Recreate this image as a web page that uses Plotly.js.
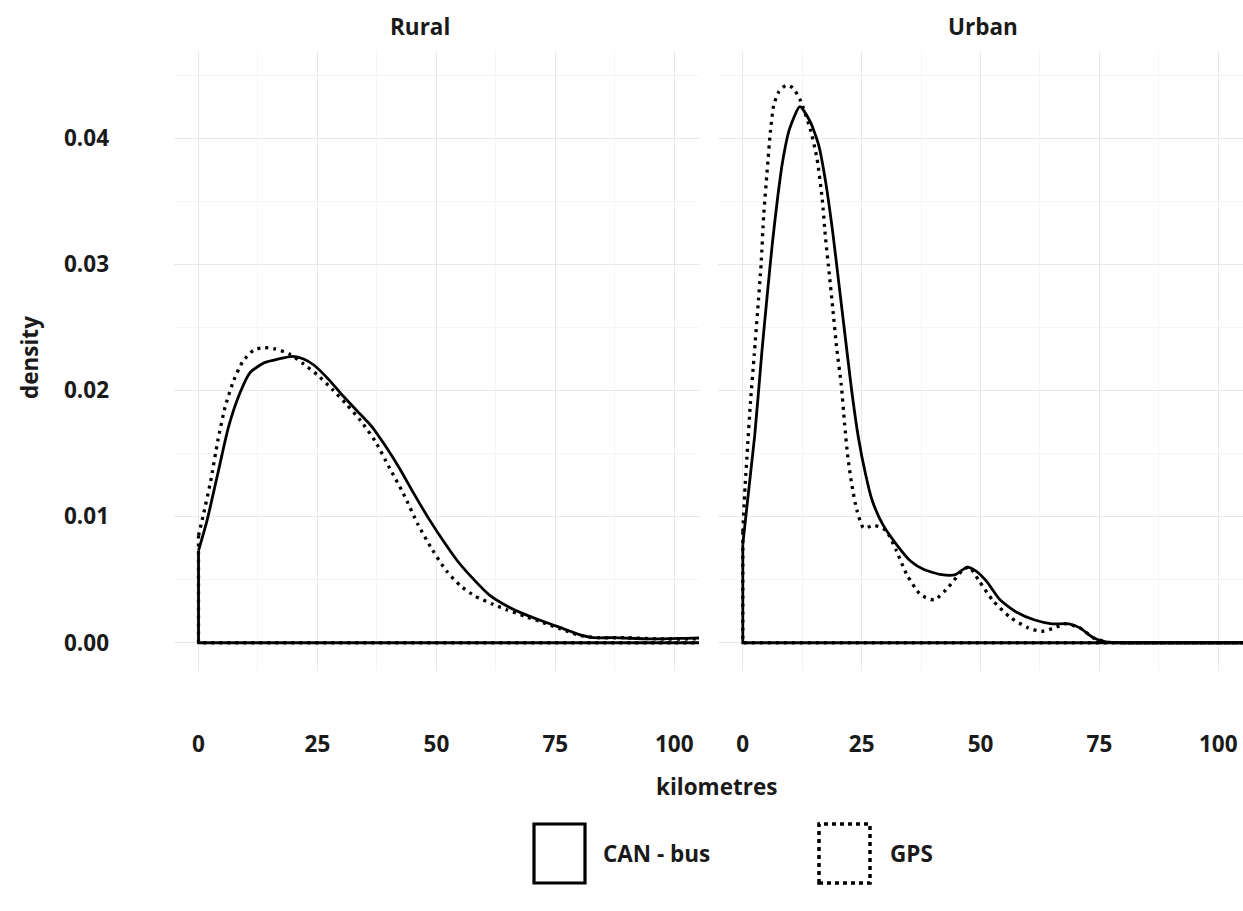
<!DOCTYPE html>
<html>
<head>
<meta charset="utf-8">
<script src="https://cdn.plot.ly/plotly-3.0.1.min.js"></script>
<style>
  html, body { margin: 0; padding: 0; background: #ffffff; }
  #chart { width: 1243px; height: 911px; }
</style>
</head>
<body>
<div id="chart"></div>
<script>
// ---- data ----
const panels = ["Rural", "Urban"];
const seriesNames = ["CAN - bus", "GPS"];
const xTickVals = [0, 25, 50, 75, 100];
const xTickText = ["0", "25", "50", "75", "100"];
const yTickVals = [0, 0.01, 0.02, 0.03, 0.04];
const yTickText = ["0.00", "0.01", "0.02", "0.03", "0.04"];

const ruralCanX = [0, 1.8, 4.05, 6.3, 8.6, 10.8, 13.8, 16.8, 19.8, 22.1, 24.3, 27.3, 30.3, 33.3, 36.3, 39.3, 42.3, 45.3, 48.3, 51.4, 54.4, 57.4, 61.1, 64.9, 68.6, 72.4, 76.1, 79.9, 82.9, 87.4, 94.9, 102.4, 108];
const ruralCanY = [0.0073, 0.0097, 0.0134, 0.0171, 0.0197, 0.0214, 0.0222, 0.0225, 0.0227, 0.0225, 0.0220, 0.0209, 0.0196, 0.0184, 0.0172, 0.0156, 0.0138, 0.0118, 0.0099, 0.0081, 0.0065, 0.0052, 0.0038, 0.0029, 0.00225, 0.0017, 0.0012, 0.00066, 0.0004, 0.0004, 0.0003, 0.00035, 0.0004];

const ruralGpsX = [0, 1.05, 2.55, 4.05, 5.6, 7.4, 9.3, 11.6, 13.8, 16.1, 19.1, 22.1, 25.1, 28.1, 31.1, 34.1, 37.1, 40.1, 43.1, 46.1, 49.1, 52.1, 55.1, 58.1, 61.9, 64.9, 68.6, 72.4, 76.1, 79.9, 84, 90, 97, 104, 108];
const ruralGpsY = [0.0085, 0.0102, 0.0128, 0.0160, 0.0187, 0.0208, 0.0223, 0.0232, 0.0234, 0.0233, 0.0229, 0.0221, 0.0212, 0.0201, 0.0189, 0.0176, 0.0160, 0.0139, 0.0118, 0.0094, 0.0074, 0.0057, 0.0045, 0.0037, 0.00305, 0.0026, 0.0021, 0.0016, 0.0011, 0.0006, 0.0004, 0.0004, 0.0003, 0.0003, 0.0003];

const urbanCanX = [0, 2.5, 4.0, 5.1, 6.2, 7.3, 8.35, 9.8, 12.0, 14.2, 16.0, 17.4, 18.9, 20.3, 22.1, 22.9, 24.3, 25.8, 27.2, 29.4, 32.3, 35.2, 38.1, 41.8, 44.7, 47.2, 49.0, 51.2, 54.1, 57.7, 61.4, 65.0, 68.6, 70.8, 73.7, 76.6, 80, 108];
const urbanCanY = [0.0078, 0.0164, 0.0230, 0.0274, 0.0316, 0.0352, 0.0381, 0.0407, 0.0425, 0.0413, 0.0394, 0.0366, 0.0326, 0.0282, 0.0225, 0.0200, 0.0163, 0.0134, 0.0113, 0.0094, 0.0078, 0.0065, 0.0058, 0.0054, 0.0054, 0.0060, 0.0057, 0.0049, 0.0034, 0.0024, 0.0018, 0.0015, 0.0015, 0.0012, 0.0004, 0.00005, 0, 0];

const urbanGpsX = [0, 0.5, 1.0, 1.6, 2.4, 3.1, 3.85, 4.4, 5.1, 5.8, 6.5, 7.6, 9.1, 10.5, 12.0, 14.2, 15.6, 16.7, 17.4, 18.2, 18.9, 19.8, 20.7, 21.4, 22.1, 22.9, 24.0, 25.4, 27.6, 30.1, 32.3, 34.5, 37.4, 40.3, 43.2, 46.1, 47.6, 49.7, 52.7, 56.3, 59.9, 62.8, 65.7, 67.9, 70.8, 73.7, 76.6, 80, 108];
const urbanGpsY = [0.0088, 0.0125, 0.0155, 0.0190, 0.0228, 0.0262, 0.0300, 0.0339, 0.0373, 0.0405, 0.0426, 0.0437, 0.0442, 0.0440, 0.0431, 0.0407, 0.0384, 0.0352, 0.0321, 0.0292, 0.0266, 0.0232, 0.0205, 0.0174, 0.0147, 0.0126, 0.0105, 0.0091, 0.0093, 0.0089, 0.0073, 0.0054, 0.0038, 0.0034, 0.0044, 0.0057, 0.0060, 0.0049, 0.0033, 0.0020, 0.0012, 0.0009, 0.0012, 0.0015, 0.0012, 0.0004, 0.00005, 0, 0];

// ---- page geometry (pixels) ----
const W = 1243, H = 911;
const px = v => v / W;
const py = v => 1 - v / H;

const FONT = "Open Sans, Noto Sans, sans-serif";
const TXT = "#1a1a1a";
const FS = 22.5;

const styles = [
  {color: "#000000", width: 2.8, dash: "solid"},
  {color: "#000000", width: 3.3, dash: "3px,5px"}
];

const sets = [
  {xa: "x", ya: "y", xs: ruralCanX, ys: ruralCanY, s: 0},
  {xa: "x", ya: "y", xs: ruralGpsX, ys: ruralGpsY, s: 1},
  {xa: "x2", ya: "y2", xs: urbanCanX, ys: urbanCanY, s: 0},
  {xa: "x2", ya: "y2", xs: urbanGpsX, ys: urbanGpsY, s: 1}
];

const traces = [];
sets.forEach(d => {
  const st = styles[d.s];
  const last = d.xs[d.xs.length - 1];
  // straight edges of the density polygon: up the left side, along the baseline
  traces.push({
    type: "scatter", mode: "lines",
    x: [d.xs[0], d.xs[0], last], y: [d.ys[0], 0, 0],
    xaxis: d.xa, yaxis: d.ya, showlegend: false, hoverinfo: "skip",
    line: {color: st.color, width: st.width, dash: st.dash, shape: "linear"}
  });
  // smooth density curve
  traces.push({
    type: "scatter", mode: "lines",
    x: d.xs, y: d.ys, xaxis: d.xa, yaxis: d.ya,
    name: seriesNames[d.s], showlegend: false, hoverinfo: "skip",
    line: {color: st.color, width: st.width, dash: st.dash, shape: "spline", smoothing: 0.6}
  });
});

const xRange = [-5.15, 105.2];
const yRange = [-0.00224, 0.04694];
const gridMajor = "#e8e8e8";
const gridMinor = "#f5f5f5";

function xAxis(domain, anchor) {
  return {
    domain: domain, range: xRange, anchor: anchor,
    tickvals: xTickVals, ticktext: xTickText, ticks: "",
    showgrid: true, gridcolor: gridMajor, gridwidth: 1.2,
    minor: {dtick: 12.5, tick0: 12.5, showgrid: true, gridcolor: gridMinor, gridwidth: 1, ticks: ""},
    zeroline: false, showline: false,
    tickfont: {family: FONT, size: FS, color: TXT, weight: 700},
    ticklabelstandoff: 57, fixedrange: true
  };
}
function yAxis(anchor, labels) {
  return {
    domain: [py(671), py(50.7)], range: yRange, anchor: anchor,
    tickvals: yTickVals, ticktext: yTickText, ticks: "",
    showticklabels: labels,
    showgrid: true, gridcolor: gridMajor, gridwidth: 1.2,
    minor: {dtick: 0.005, tick0: 0.005, showgrid: true, gridcolor: gridMinor, gridwidth: 1, ticks: ""},
    zeroline: false, showline: false,
    tickfont: {family: FONT, size: FS, color: TXT, weight: 700},
    ticklabelstandoff: 64, fixedrange: true
  };
}

const annFont = {family: FONT, size: FS, color: TXT, weight: 700};
const annotations = [
  {text: panels[0], x: px(420), y: py(27), xref: "paper", yref: "paper", showarrow: false, font: annFont, xanchor: "center", yanchor: "middle"},
  {text: panels[1], x: px(983), y: py(27), xref: "paper", yref: "paper", showarrow: false, font: annFont, xanchor: "center", yanchor: "middle"},
  {text: "density", x: px(29), y: py(358), xref: "paper", yref: "paper", showarrow: false, font: annFont, textangle: -90, xanchor: "center", yanchor: "middle"},
  {text: "kilometres", x: px(716), y: py(786), xref: "paper", yref: "paper", showarrow: false, font: annFont, xanchor: "center", yanchor: "middle"},
  {text: seriesNames[0], x: px(601), y: py(853), xref: "paper", yref: "paper", showarrow: false, font: annFont, xanchor: "left", yanchor: "middle"},
  {text: seriesNames[1], x: px(888), y: py(853), xref: "paper", yref: "paper", showarrow: false, font: annFont, xanchor: "left", yanchor: "middle"}
];

const shapes = [
  {type: "rect", xref: "paper", yref: "paper", x0: px(534), x1: px(585), y0: py(883), y1: py(824),
   line: {color: "#000", width: 3.2}, fillcolor: "rgba(0,0,0,0)"},
  {type: "rect", xref: "paper", yref: "paper", x0: px(819), x1: px(870), y0: py(883), y1: py(824),
   line: {color: "#000", width: 3.5, dash: "4px,4px"}, fillcolor: "rgba(0,0,0,0)"}
];

const layout = {
  width: W, height: H,
  margin: {l: 0, r: 0, t: 0, b: 0, pad: 0},
  paper_bgcolor: "#ffffff", plot_bgcolor: "#ffffff",
  showlegend: false,
  xaxis: xAxis([px(174), px(699)], "y"),
  xaxis2: xAxis([px(718.3), 1], "y2"),
  yaxis: yAxis("x", true),
  yaxis2: yAxis("x2", false),
  annotations: annotations,
  shapes: shapes,
  font: {family: FONT}
};

Plotly.newPlot("chart", traces, layout, {displayModeBar: false, staticPlot: true});
</script>
</body>
</html>
